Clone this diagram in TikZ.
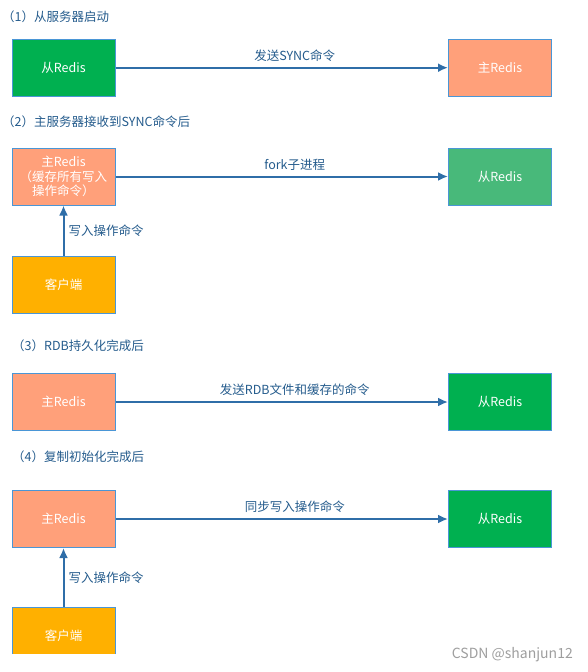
\documentclass[tikz,border=0pt]{standalone}
\usepackage{fontspec}
\setmainfont{Noto Sans CJK SC}
\definecolor{slavegreen}{HTML}{00B050}
\definecolor{forkgreen}{HTML}{48B97A}
\definecolor{mastersalmon}{HTML}{FFA07A}
\definecolor{clientorange}{HTML}{FFB000}
\definecolor{boxline}{HTML}{4A96D6}
\definecolor{flowblue}{HTML}{2F6EA8}
\definecolor{labelblue}{HTML}{245B8C}
\usepackage{tikz}
\usetikzlibrary{arrows.meta, positioning}

\tikzset{
  redisbox/.style={draw=boxline, line width=1pt, minimum width=103pt,
    minimum height=57pt, inner sep=0pt, text=white, align=center,
    font=\fontsize{12.5}{14.5}\selectfont},
  flow/.style={draw=flowblue, line width=2pt, -{Latex[length=10pt,width=9pt]}},
  flowlabel/.style={text=labelblue, inner sep=0pt, font=\fontsize{12.5}{14}\selectfont},
  steptitle/.style={anchor=west, text=labelblue, inner sep=0pt,
    font=\fontsize{12.5}{14}\selectfont},
}

\begin{document}
\begin{tikzpicture}[x=1pt, y=-1pt]
  \useasboundingbox (0,0) rectangle (587,672);

  % (1)
  \node[steptitle] (title1) at (2,17) {（1）从服务器启动};
  \node[redisbox, fill=slavegreen] (slave1) at (63.5,67.7) {从Redis};
  \node[redisbox, fill=mastersalmon] (master1) at (500,67.7) {主Redis};
  \draw[flow] (slave1) -- node[flowlabel, above=5pt, xshift=13pt] {发送SYNC命令} (master1);

  % (2)
  \node[steptitle] (title2) at (2,121.5) {（2）主服务器接收到SYNC命令后};
  \node[redisbox, fill=mastersalmon] (master2) at (63.5,176.5)
    {主Redis\\（缓存所有写入\\操作命令）};
  \node[redisbox, fill=forkgreen] (slave2) at (500,176.5) {从Redis};
  \node[redisbox, fill=clientorange] (client1) at (63.5,284.5) {客户端};
  \draw[flow] (master2) -- node[flowlabel, above=5pt, xshift=13pt] {fork子进程} (slave2);
  \draw[flow] (client1) -- node[flowlabel, right=4pt] {写入操作命令} (master2);

  % (3)
  \node[steptitle] (title3) at (12,346) {（3）RDB持久化完成后};
  \node[redisbox, fill=mastersalmon] (master3) at (63.5,402) {主Redis};
  \node[redisbox, fill=slavegreen] (slave3) at (500,402) {从Redis};
  \draw[flow] (master3) -- node[flowlabel, above=5pt, xshift=13pt] {发送RDB文件和缓存的命令} (slave3);

  % (4)
  \node[steptitle] (title4) at (12,457) {（4）复制初始化完成后};
  \node[redisbox, fill=mastersalmon] (master4) at (63.5,519) {主Redis};
  \node[redisbox, fill=slavegreen] (slave4) at (500,519) {从Redis};
  \begin{scope}
    \clip (0,0) rectangle (587,653.5);
    \node[redisbox, fill=clientorange] (client2) at (63.5,635.5) {客户端};
  \end{scope}
  \draw[flow] (master4) -- node[flowlabel, above=5pt, xshift=13pt] {同步写入操作命令} (slave4);
  \draw[flow] (client2) -- node[flowlabel, right=4pt] {写入操作命令} (master4);

  \node[anchor=east, text=black!38, inner sep=0pt, font=\fontsize{14}{16}\selectfont]
    (mark) at (573,655) {CSDN @shanjun12};
\end{tikzpicture}
\end{document}
